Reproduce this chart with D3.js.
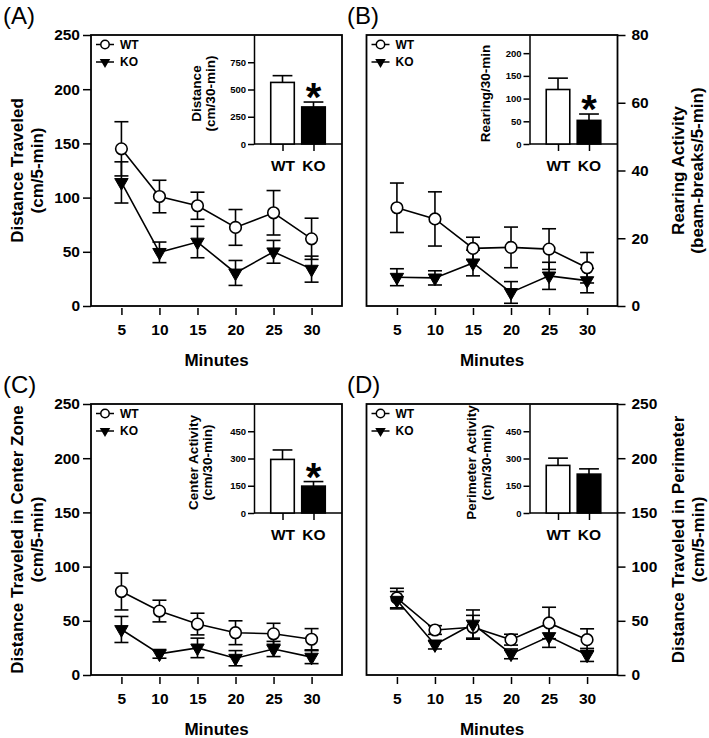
<!DOCTYPE html>
<html>
<head>
<meta charset="utf-8">
<script src="https://cdn.jsdelivr.net/npm/d3@7"></script>
<style>
  body { margin: 0; background: #fff; }
  svg  { display: block; font-family: "Liberation Sans", Arial, sans-serif; }
</style>
</head>
<body>
<svg id="chart" width="709" height="738"></svg>
<script>
/* ── DATA ───────────────────────────────────────────────────────────────────── */
const minutes = [5, 10, 15, 20, 25, 30];
const groups  = ['WT', 'KO'];

// (A) distance traveled, cm/5-min
const distWT    = [145, 101, 92.5, 72.5, 86, 62];
const distWTErr = [25, 15, 12.5, 16.5, 20.5, 19];
const distKO    = [114, 49.5, 59, 30.5, 50, 34];
const distKOErr = [19, 9.5, 14.5, 11.5, 10.5, 12];
const distTotal    = [565, 340];
const distTotalErr = [62, 45];

// (B) rearing, beam-breaks/5-min
const rearWT    = [29, 25.7, 17, 17.3, 16.8, 11.3];
const rearWTErr = [7.3, 8, 3.3, 6, 6, 4.5];
const rearKO    = [8.5, 8.3, 12.7, 4, 8.9, 7.5];
const rearKOErr = [2.5, 2.1, 3.8, 3.2, 4, 3.6];
const rearTotal    = [120, 52];
const rearTotalErr = [25, 14];

// (C) center zone, cm/5-min
const centerWT    = [77, 59, 47, 39, 38, 33];
const centerWTErr = [17, 10, 10, 11, 9.7, 9.8];
const centerKO    = [42, 19.5, 25, 15.5, 24, 16.5];
const centerKOErr = [12, 4, 9, 7, 7, 6];
const centerTotal    = [295, 148];
const centerTotalErr = [52, 25];

// (D) perimeter, cm/5-min
const periWT    = [71, 41.5, 44, 32.6, 48, 32.6];
const periWTErr = [9, 4, 11, 5, 14.5, 10];
const periKO    = [69, 28, 47, 19.5, 35.5, 18.5];
const periKOErr = [8, 4, 13, 4.5, 10, 6];
const periTotal    = [262, 214];
const periTotalErr = [40, 29];

// tick values
const distTicks        = [0, 50, 100, 150, 200, 250];
const rearTicks        = [0, 20, 40, 60, 80];
const insetDistTicks   = [0, 250, 500, 750];
const insetRearTicks   = [0, 50, 100, 150, 200];
const insetZoneTicks   = [0, 150, 300, 450];

/* ── LAYOUT ─────────────────────────────────────────────────────────────────── */
const W = 251, H = 271;
const INSET_X = 163, INSET_H = 109;
const FONT_TICK = 15.5, FONT_LABEL = 17;

const svg = d3.select('#chart');

const panels = [
  { tag: '(A)', tagX: 3, x: 91, y: 35, side: 'left',
    wt: distWT, wtErr: distWTErr, ko: distKO, koErr: distKOErr,
    yMax: 250, yTicks: distTicks,
    label: ['Distance Traveled', '(cm/5-min)'], labelX: [23, 43],
    inset: { vals: distTotal, errs: distTotalErr, max: 1000, ticks: insetDistTicks,
             label: ['Distance', '(cm/30-min)'], labelX: [110, 124], star: true } },
  { tag: '(B)', tagX: 347, x: 366.5, y: 35, side: 'right',
    wt: rearWT, wtErr: rearWTErr, ko: rearKO, koErr: rearKOErr,
    yMax: 80, yTicks: rearTicks,
    label: ['Rearing Activity', '(beam-breaks/5-min)'], labelX: [684, 703],
    inset: { vals: rearTotal, errs: rearTotalErr, max: 240, ticks: insetRearTicks,
             label: ['Rearing/30-min'], labelX: [123], star: true } },
  { tag: '(C)', tagX: 3, x: 91, y: 404, side: 'left',
    wt: centerWT, wtErr: centerWTErr, ko: centerKO, koErr: centerKOErr,
    yMax: 250, yTicks: distTicks,
    label: ['Distance Traveled in Center Zone', '(cm/5-min)'], labelX: [23, 43],
    inset: { vals: centerTotal, errs: centerTotalErr, max: 600, ticks: insetZoneTicks,
             label: ['Center Activity', '(cm/30-min)'], labelX: [107, 121], star: true } },
  { tag: '(D)', tagX: 347, x: 366.5, y: 404, side: 'right',
    wt: periWT, wtErr: periWTErr, ko: periKO, koErr: periKOErr,
    yMax: 250, yTicks: distTicks,
    label: ['Distance Traveled in Perimeter', '(cm/5-min)'], labelX: [684, 704],
    inset: { vals: periTotal, errs: periTotalErr, max: 600, ticks: insetZoneTicks,
             label: ['Perimeter Activity', '(cm/30-min)'], labelX: [109.5, 124.5], star: false } }
];

/* ── HELPERS ────────────────────────────────────────────────────────────────── */
const triangle = d3.symbol().type(d3.symbolTriangle).size(78)();
const triangleSmall = d3.symbol().type(d3.symbolTriangle).size(48)();

function styleAxis(sel, fontSize) {
  sel.selectAll('line').attr('stroke', '#000').attr('stroke-width', 1.5);
  sel.selectAll('path.domain').attr('stroke', '#000').attr('stroke-width', 1.5);
  sel.selectAll('text')
    .attr('fill', '#000')
    .attr('font-size', fontSize)
    .attr('font-weight', 'bold');
}

function drawSeries(g, x, y, vals, errs) {
  const pts = minutes.map((m, i) => ({ m, v: vals[i], e: errs[i] }));
  const err = g.append('g');
  err.selectAll('line.v').data(pts).join('line')
    .attr('x1', d => x(d.m)).attr('x2', d => x(d.m))
    .attr('y1', d => y(d.v - d.e)).attr('y2', d => y(d.v + d.e));
  err.selectAll('line.t').data(pts).join('line')
    .attr('x1', d => x(d.m) - 7).attr('x2', d => x(d.m) + 7)
    .attr('y1', d => y(d.v + d.e)).attr('y2', d => y(d.v + d.e));
  err.selectAll('line.b').data(pts).join('line')
    .attr('x1', d => x(d.m) - 7).attr('x2', d => x(d.m) + 7)
    .attr('y1', d => y(d.v - d.e)).attr('y2', d => y(d.v - d.e));
  err.selectAll('line').attr('stroke', '#000').attr('stroke-width', 1.6);

  g.append('path')
    .datum(pts)
    .attr('fill', 'none').attr('stroke', '#000').attr('stroke-width', 1.6)
    .attr('d', d3.line().x(d => x(d.m)).y(d => y(d.v)));
  return pts;
}

function drawMarkers(g, x, y, pts, kind) {
  if (kind === 'WT') {
    g.selectAll(null).data(pts).join('circle')
      .attr('cx', d => x(d.m)).attr('cy', d => y(d.v)).attr('r', 5.8)
      .attr('fill', '#fff').attr('stroke', '#000').attr('stroke-width', 1.6);
  } else {
    g.selectAll(null).data(pts).join('path')
      .attr('d', triangle)
      .attr('transform', d => `translate(${x(d.m)},${y(d.v)}) rotate(180)`)
      .attr('fill', '#000').attr('stroke', '#000').attr('stroke-width', 1);
  }
}

/* ── PANEL ──────────────────────────────────────────────────────────────────── */
function drawPanel(p) {
  svg.append('text')
    .attr('x', p.tagX).attr('y', p.y - 11)
    .attr('font-size', 24)
    .text(p.tag);

  const g = svg.append('g').attr('transform', `translate(${p.x},${p.y})`);
  const x = d3.scaleLinear().domain([1, 34]).range([0, W]);
  const y = d3.scaleLinear().domain([0, p.yMax]).range([H, 0]);

  // y axis (left or right)
  const yAxis = p.side === 'left'
    ? d3.axisLeft(y).tickSize(8).tickPadding(3)
    : d3.axisRight(y).tickSize(8).tickPadding(6);
  const ya = g.append('g')
    .attr('transform', p.side === 'left' ? null : `translate(${W},0)`)
    .call(yAxis.tickValues(p.yTicks));
  ya.select('.domain').remove();
  styleAxis(ya, FONT_TICK);

  // x axis ticks, hanging just below the frame
  const xa = g.append('g')
    .attr('transform', `translate(0,${H + 2})`)
    .call(d3.axisBottom(x).tickValues(minutes).tickSize(7).tickPadding(9));
  xa.select('.domain').remove();
  styleAxis(xa, FONT_TICK);

  g.append('text')
    .attr('x', W / 2).attr('y', H + 60)
    .attr('text-anchor', 'middle')
    .attr('font-size', FONT_LABEL).attr('font-weight', 'bold')
    .text('Minutes');

  // main y label, two rotated lines
  p.label.forEach((t, i) => {
    svg.append('text')
      .attr('transform', `translate(${p.labelX[i]},${p.y + H / 2}) rotate(-90)`)
      .attr('text-anchor', 'middle')
      .attr('font-size', FONT_LABEL).attr('font-weight', 'bold')
      .text(t);
  });

  // series
  const wtPts = drawSeries(g, x, y, p.wt, p.wtErr);
  const koPts = drawSeries(g, x, y, p.ko, p.koErr);
  drawMarkers(g, x, y, wtPts, 'WT');
  drawMarkers(g, x, y, koPts, 'KO');

  // inset bar chart
  const ins = p.inset;
  const xi = d3.scalePoint().domain(groups).range([INSET_X, W]).padding(0.92);
  const yi = d3.scaleLinear().domain([0, ins.max]).range([INSET_H, 0]);
  const bw = xi.step() * 0.76;

  const iy = g.append('g')
    .attr('transform', `translate(${INSET_X},0)`)
    .call(d3.axisLeft(yi).tickValues(ins.ticks).tickSize(6).tickSizeOuter(0).tickPadding(2));
  styleAxis(iy, 9.5);

  g.append('line')
    .attr('x1', INSET_X).attr('x2', W)
    .attr('y1', INSET_H).attr('y2', INSET_H)
    .attr('stroke', '#000').attr('stroke-width', 1.5);

  const ix = g.append('g')
    .attr('transform', `translate(0,${INSET_H})`)
    .call(d3.axisBottom(xi).tickSize(7).tickPadding(9));
  ix.select('.domain').remove();
  styleAxis(ix, FONT_TICK);

  const bars = groups.map((k, i) => ({ k, v: ins.vals[i], e: ins.errs[i] }));
  g.selectAll(null).data(bars).join('line')
    .attr('x1', d => xi(d.k)).attr('x2', d => xi(d.k))
    .attr('y1', d => yi(d.v)).attr('y2', d => yi(d.v + d.e))
    .attr('stroke', '#000').attr('stroke-width', 1.6);
  g.selectAll(null).data(bars).join('line')
    .attr('x1', d => xi(d.k) - bw * 0.42).attr('x2', d => xi(d.k) + bw * 0.42)
    .attr('y1', d => yi(d.v + d.e)).attr('y2', d => yi(d.v + d.e))
    .attr('stroke', '#000').attr('stroke-width', 1.6);
  g.selectAll(null).data(bars).join('rect')
    .attr('x', d => xi(d.k) - bw / 2).attr('width', bw)
    .attr('y', d => yi(d.v)).attr('height', d => yi(0) - yi(d.v))
    .attr('fill', d => d.k === 'WT' ? '#fff' : '#000')
    .attr('stroke', '#000').attr('stroke-width', 1.6);

  if (ins.star) {
    const ko = bars[1];
    // star glyph bottom sits ~0.36em above the baseline
    g.append('text')
      .attr('x', xi('KO'))
      .attr('y', yi(ko.v + ko.e) - 5 + 0.36 * 40)
      .attr('text-anchor', 'middle')
      .attr('font-size', 40).attr('font-weight', 'bold')
      .text('*');
  }

  ins.label.forEach((t, i) => {
    g.append('text')
      .attr('transform', `translate(${ins.labelX[i]},${INSET_H / 2 + 4}) rotate(-90)`)
      .attr('text-anchor', 'middle')
      .attr('font-size', 13.5).attr('font-weight', 'bold')
      .text(t);
  });

  // frame drawn last so it sits on top
  g.append('rect')
    .attr('width', W).attr('height', H)
    .attr('fill', 'none').attr('stroke', '#000').attr('stroke-width', 1.8);

  // legend
  const leg = g.append('g');
  [['WT', 9.5], ['KO', 27]].forEach(([k, ly]) => {
    leg.append('line')
      .attr('x1', 5).attr('x2', 23).attr('y1', ly).attr('y2', ly)
      .attr('stroke', '#000').attr('stroke-width', 1.5);
    if (k === 'WT') {
      leg.append('circle').attr('cx', 14).attr('cy', ly).attr('r', 4.2)
        .attr('fill', '#fff').attr('stroke', '#000').attr('stroke-width', 1.5);
    } else {
      leg.append('path').attr('d', triangleSmall)
        .attr('transform', `translate(14,${ly}) rotate(180)`)
        .attr('fill', '#000');
    }
    leg.append('text')
      .attr('x', 29).attr('y', ly).attr('dy', '0.35em')
      .attr('font-size', 12).attr('font-weight', 'bold')
      .text(k);
  });
}

panels.forEach(drawPanel);
</script>
</body>
</html>
